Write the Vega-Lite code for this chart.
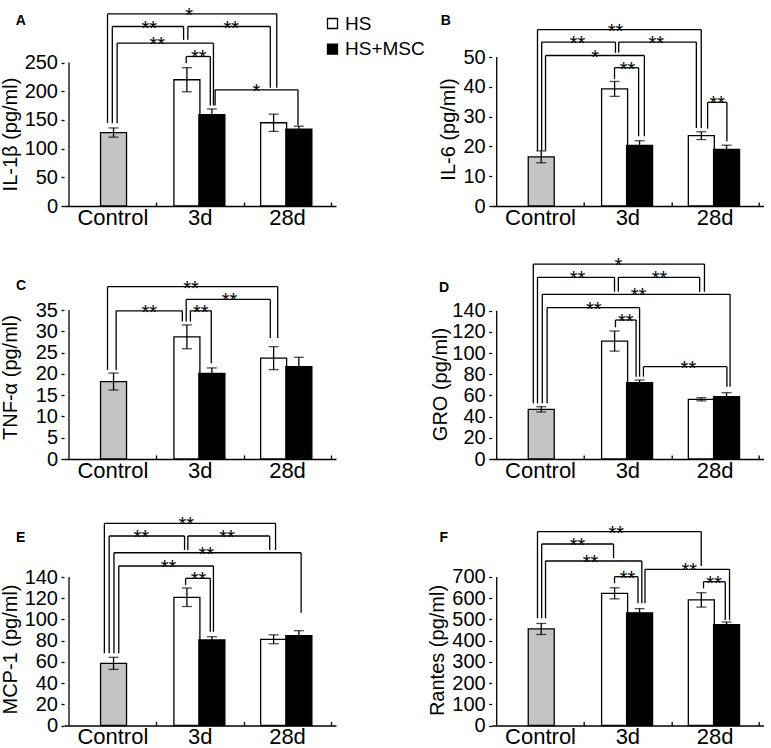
{
  "$schema": "https://vega.github.io/schema/vega-lite/v6.json",
  "padding": {"left": 0, "top": 0, "right": 0, "bottom": 4},
  "background": "white",
  "datasets": {
    "panels": [
      {"panel": "A", "axisMax": 250},
      {"panel": "B", "axisMax": 50},
      {"panel": "C", "axisMax": 35},
      {"panel": "D", "axisMax": 140},
      {"panel": "E", "axisMax": 140},
      {"panel": "F", "axisMax": 700}
    ],
    "bars": [
      {"panel": "A", "time": "Control", "group": "Control", "pos": 0.51, "mean": 128, "sem": 8},
      {"panel": "A", "time": "3d", "group": "HS", "pos": 1.35, "mean": 220, "sem": 21},
      {"panel": "A", "time": "3d", "group": "HS+MSC", "pos": 1.636, "mean": 159, "sem": 10},
      {"panel": "A", "time": "28d", "group": "HS", "pos": 2.343, "mean": 145, "sem": 15},
      {"panel": "A", "time": "28d", "group": "HS+MSC", "pos": 2.632, "mean": 134, "sem": 5},
      {"panel": "B", "time": "Control", "group": "Control", "pos": 0.51, "mean": 16.5, "sem": 2},
      {"panel": "B", "time": "3d", "group": "HS", "pos": 1.35, "mean": 39.3, "sem": 2.5},
      {"panel": "B", "time": "3d", "group": "HS+MSC", "pos": 1.636, "mean": 20.3, "sem": 1.6},
      {"panel": "B", "time": "28d", "group": "HS", "pos": 2.343, "mean": 23.6, "sem": 1.3},
      {"panel": "B", "time": "28d", "group": "HS+MSC", "pos": 2.632, "mean": 19.0, "sem": 1.4},
      {"panel": "C", "time": "Control", "group": "Control", "pos": 0.51, "mean": 18.2, "sem": 2},
      {"panel": "C", "time": "3d", "group": "HS", "pos": 1.35, "mean": 28.7, "sem": 2.8},
      {"panel": "C", "time": "3d", "group": "HS+MSC", "pos": 1.636, "mean": 20.1, "sem": 1.3},
      {"panel": "C", "time": "28d", "group": "HS", "pos": 2.343, "mean": 23.7, "sem": 2.7},
      {"panel": "C", "time": "28d", "group": "HS+MSC", "pos": 2.632, "mean": 21.7, "sem": 2.2},
      {"panel": "D", "time": "Control", "group": "Control", "pos": 0.51, "mean": 46.9, "sem": 2.5},
      {"panel": "D", "time": "3d", "group": "HS", "pos": 1.35, "mean": 111.4, "sem": 9.5},
      {"panel": "D", "time": "3d", "group": "HS+MSC", "pos": 1.636, "mean": 72.0, "sem": 2.6},
      {"panel": "D", "time": "28d", "group": "HS", "pos": 2.343, "mean": 56.4, "sem": 1.5},
      {"panel": "D", "time": "28d", "group": "HS+MSC", "pos": 2.632, "mean": 58.8, "sem": 3.8},
      {"panel": "E", "time": "Control", "group": "Control", "pos": 0.51, "mean": 58.6, "sem": 5.7},
      {"panel": "E", "time": "3d", "group": "HS", "pos": 1.35, "mean": 120.9, "sem": 8.7},
      {"panel": "E", "time": "3d", "group": "HS+MSC", "pos": 1.636, "mean": 80.6, "sem": 3.1},
      {"panel": "E", "time": "28d", "group": "HS", "pos": 2.343, "mean": 81.3, "sem": 4.2},
      {"panel": "E", "time": "28d", "group": "HS+MSC", "pos": 2.632, "mean": 84.7, "sem": 4.7},
      {"panel": "F", "time": "Control", "group": "Control", "pos": 0.51, "mean": 455, "sem": 26},
      {"panel": "F", "time": "3d", "group": "HS", "pos": 1.35, "mean": 623, "sem": 26},
      {"panel": "F", "time": "3d", "group": "HS+MSC", "pos": 1.636, "mean": 531, "sem": 20},
      {"panel": "F", "time": "28d", "group": "HS", "pos": 2.343, "mean": 592, "sem": 34},
      {"panel": "F", "time": "28d", "group": "HS+MSC", "pos": 2.632, "mean": 475, "sem": 13}
    ],
    "brackets": [
      {"panel": "A", "x1": 0.441, "x2": 2.379, "y": 334.8, "yl": 144.3, "yr": 205.9, "tx": 1.375, "sig": "*"},
      {"panel": "A", "x1": 0.496, "x2": 1.312, "y": 312.7, "yl": 144.3, "yr": 289.5, "tx": 0.92, "sig": "**"},
      {"panel": "A", "x1": 1.361, "x2": 2.305, "y": 312.7, "yl": 289.5, "yr": 205.9, "tx": 1.857, "sig": "**"},
      {"panel": "A", "x1": 0.551, "x2": 1.654, "y": 283.6, "yl": 144.3, "yr": 175.1, "tx": 1.011, "sig": "**"},
      {"panel": "A", "x1": 1.342, "x2": 1.618, "y": 260.5, "yl": 248.8, "yr": 175.1, "tx": 1.486, "sig": "**"},
      {"panel": "A", "x1": 1.673, "x2": 2.622, "y": 202.4, "yl": 175.1, "yr": 140.2, "tx": 2.147, "sig": "*"},
      {"panel": "B", "x1": 0.467, "x2": 2.342, "y": 59.2, "yl": 18.6, "yr": 26.2, "tx": 1.36, "sig": "**"},
      {"panel": "B", "x1": 0.515, "x2": 1.36, "y": 55.0, "yl": 18.6, "yr": 51.4, "tx": 0.926, "sig": "**"},
      {"panel": "B", "x1": 1.397, "x2": 2.286, "y": 55.0, "yl": 51.4, "yr": 26.2, "tx": 1.828, "sig": "**"},
      {"panel": "B", "x1": 0.559, "x2": 1.691, "y": 50.5, "yl": 18.6, "yr": 23.4, "tx": 1.128, "sig": "*"},
      {"panel": "B", "x1": 1.349, "x2": 1.625, "y": 46.4, "yl": 42.6, "yr": 23.4, "tx": 1.497, "sig": "**"},
      {"panel": "B", "x1": 2.415, "x2": 2.636, "y": 34.8, "yl": 26.0, "yr": 21.7, "tx": 2.526, "sig": "**"},
      {"panel": "C", "x1": 0.441, "x2": 2.39, "y": 40.5, "yl": 20.9, "yr": 28.4, "tx": 1.397, "sig": "**"},
      {"panel": "C", "x1": 0.54, "x2": 1.298, "y": 34.8, "yl": 20.9, "yr": 32.3, "tx": 0.92, "sig": "**"},
      {"panel": "C", "x1": 1.342, "x2": 2.305, "y": 37.5, "yl": 32.3, "yr": 28.4, "tx": 1.839, "sig": "**"},
      {"panel": "C", "x1": 1.39, "x2": 1.629, "y": 34.8, "yl": 32.3, "yr": 22.5, "tx": 1.508, "sig": "**"},
      {"panel": "D", "x1": 0.419, "x2": 2.379, "y": 184.1, "yl": 52.6, "yr": 158.0, "tx": 1.393, "sig": "*"},
      {"panel": "D", "x1": 0.467, "x2": 1.349, "y": 171.6, "yl": 52.6, "yr": 158.0, "tx": 0.926, "sig": "**"},
      {"panel": "D", "x1": 1.393, "x2": 2.324, "y": 171.6, "yl": 158.0, "yr": 158.0, "tx": 1.864, "sig": "**"},
      {"panel": "D", "x1": 0.522, "x2": 2.672, "y": 155.5, "yl": 52.6, "yr": 68.3, "tx": 1.625, "sig": "**"},
      {"panel": "D", "x1": 0.577, "x2": 1.636, "y": 142.9, "yl": 52.6, "yr": 77.7, "tx": 1.111, "sig": "**"},
      {"panel": "D", "x1": 1.36, "x2": 1.596, "y": 131.3, "yl": 124.4, "yr": 77.7, "tx": 1.478, "sig": "**"},
      {"panel": "D", "x1": 1.68, "x2": 2.636, "y": 87.2, "yl": 77.7, "yr": 68.3, "tx": 2.195, "sig": "**"},
      {"panel": "E", "x1": 0.405, "x2": 2.365, "y": 190.6, "yl": 68.1, "yr": 165.5, "tx": 1.342, "sig": "**"},
      {"panel": "E", "x1": 0.46, "x2": 1.323, "y": 178.7, "yl": 68.1, "yr": 165.5, "tx": 0.827, "sig": "**"},
      {"panel": "E", "x1": 1.361, "x2": 2.298, "y": 178.7, "yl": 165.5, "yr": 165.5, "tx": 1.809, "sig": "**"},
      {"panel": "E", "x1": 0.515, "x2": 2.658, "y": 162.9, "yl": 68.1, "yr": 106.3, "tx": 1.571, "sig": "**"},
      {"panel": "E", "x1": 0.57, "x2": 1.654, "y": 150.4, "yl": 68.1, "yr": 88.4, "tx": 1.14, "sig": "**"},
      {"panel": "E", "x1": 1.335, "x2": 1.618, "y": 138.8, "yl": 132.5, "yr": 88.4, "tx": 1.482, "sig": "**"},
      {"panel": "F", "x1": 0.467, "x2": 2.342, "y": 913.6, "yl": 505.3, "yr": 751.9, "tx": 1.368, "sig": "**"},
      {"panel": "F", "x1": 0.515, "x2": 1.338, "y": 855.6, "yl": 505.3, "yr": 788.2, "tx": 0.926, "sig": "**"},
      {"panel": "F", "x1": 0.559, "x2": 1.662, "y": 775.4, "yl": 505.3, "yr": 576.0, "tx": 1.073, "sig": "**"},
      {"panel": "F", "x1": 1.698, "x2": 2.666, "y": 736.3, "yl": 576.0, "yr": 497.3, "tx": 2.206, "sig": "**"},
      {"panel": "F", "x1": 1.349, "x2": 1.618, "y": 701.4, "yl": 670.3, "yr": 576.0, "tx": 1.497, "sig": "**"},
      {"panel": "F", "x1": 2.368, "x2": 2.617, "y": 677.9, "yl": 646.7, "yr": 497.3, "tx": 2.489, "sig": "**"}
    ]
  },
  "columns": 2,
  "spacing": {"row": 44, "column": 155.7},
  "bounds": "flush",
  "align": "each",
  "concat": [
    {
      "width": 272, "height": 206,
      "layer": [
        {"data": {"name": "panels"}, "transform": [{"filter": "datum.panel == 'A'"}],
         "mark": {"type": "rule", "color": "black", "strokeWidth": 1.3},
         "encoding": {
           "x": {"datum": 0, "type": "quantitative", "scale": {"domain": [0, 3], "nice": false},
                 "axis": {"values": [1, 2, 3], "labelExpr": "datum.value == 1 ? 'Control' : datum.value == 2 ? '3d' : '28d'", "title": null}},
           "y": {"field": "axisMax", "type": "quantitative", "scale": {"domain": [0, 358.9], "nice": false},
                 "axis": {"values": [0, 50, 100, 150, 200, 250], "tickCount": 20, "title": "IL-1β (pg/ml)", "titleX": -48, "titleY": 134}},
           "y2": {"datum": 0}
         }},
        {"data": {"name": "panels"}, "transform": [{"filter": "datum.panel == 'A'"}],
         "mark": {"type": "text", "align": "left", "baseline": "alphabetic", "fontSize": 14, "fontWeight": "bold", "color": "black"},
         "encoding": {"x": {"datum": -0.61, "type": "quantitative"}, "y": {"datum": 315.3, "type": "quantitative"}, "text": {"field": "panel"}}},
        {"data": {"name": "bars"}, "transform": [{"filter": "datum.panel == 'A' && datum.group == 'Control'"}],
         "mark": {"type": "bar", "width": 26, "fill": "#c4c4c4", "stroke": "black", "strokeWidth": 1.3},
         "encoding": {"x": {"field": "pos", "type": "quantitative"}, "y": {"field": "mean", "type": "quantitative", "title": "IL-1β (pg/ml)"}}},
        {"data": {"name": "bars"}, "transform": [{"filter": "datum.panel == 'A' && datum.group != 'Control'"}],
         "mark": {"type": "bar", "width": 26, "stroke": "black", "strokeWidth": 1.3},
         "encoding": {"x": {"field": "pos", "type": "quantitative"}, "y": {"field": "mean", "type": "quantitative", "title": "IL-1β (pg/ml)"},
                      "fill": {"field": "group", "type": "nominal", "title": null, "scale": {"domain": ["HS", "HS+MSC"], "range": ["#ffffff", "#000000"]}}}},
        {"data": {"name": "bars"}, "transform": [{"filter": "datum.panel == 'A'"}],
         "mark": {"type": "errorbar", "color": "black", "ticks": {"size": 10, "thickness": 1.3}, "rule": {"strokeWidth": 1.3}},
         "encoding": {"x": {"field": "pos", "type": "quantitative"}, "y": {"field": "mean", "type": "quantitative", "title": "IL-1β (pg/ml)"}, "yError": {"field": "sem"}}},
        {"data": {"name": "brackets"}, "transform": [{"filter": "datum.panel == 'A'"}],
         "mark": {"type": "rule", "color": "black", "strokeWidth": 1.3},
         "encoding": {"x": {"field": "x1", "type": "quantitative"}, "x2": {"field": "x2"}, "y": {"field": "y", "type": "quantitative", "title": "IL-1β (pg/ml)"}}},
        {"data": {"name": "brackets"}, "transform": [{"filter": "datum.panel == 'A'"}],
         "mark": {"type": "rule", "color": "black", "strokeWidth": 1.3},
         "encoding": {"x": {"field": "x1", "type": "quantitative"}, "y": {"field": "y", "type": "quantitative", "title": "IL-1β (pg/ml)"}, "y2": {"field": "yl"}}},
        {"data": {"name": "brackets"}, "transform": [{"filter": "datum.panel == 'A'"}],
         "mark": {"type": "rule", "color": "black", "strokeWidth": 1.3},
         "encoding": {"x": {"field": "x2", "type": "quantitative"}, "y": {"field": "y", "type": "quantitative", "title": "IL-1β (pg/ml)"}, "y2": {"field": "yr"}}},
        {"data": {"name": "brackets"}, "transform": [{"filter": "datum.panel == 'A'"}],
         "mark": {"type": "text", "fontSize": 20, "dy": 8, "baseline": "alphabetic", "align": "center", "color": "black"},
         "encoding": {"x": {"field": "tx", "type": "quantitative"}, "y": {"field": "y", "type": "quantitative", "title": "IL-1β (pg/ml)"}, "text": {"field": "sig"}}}
      ]
    },
    {
      "width": 272, "height": 206,
      "layer": [
        {"data": {"name": "panels"}, "transform": [{"filter": "datum.panel == 'B'"}],
         "mark": {"type": "rule", "color": "black", "strokeWidth": 1.3},
         "encoding": {
           "x": {"datum": 0, "type": "quantitative", "scale": {"domain": [0, 3], "nice": false},
                 "axis": {"values": [1, 2, 3], "labelExpr": "datum.value == 1 ? 'Control' : datum.value == 2 ? '3d' : '28d'", "title": null}},
           "y": {"field": "axisMax", "type": "quantitative", "scale": {"domain": [0, 69.13], "nice": false},
                 "axis": {"values": [0, 10, 20, 30, 40, 50], "tickCount": 20, "title": "IL-6 (pg/ml)", "titleX": -37, "titleY": 129}},
           "y2": {"datum": 0}
         }},
        {"data": {"name": "panels"}, "transform": [{"filter": "datum.panel == 'B'"}],
         "mark": {"type": "text", "align": "left", "baseline": "alphabetic", "fontSize": 14, "fontWeight": "bold", "color": "black"},
         "encoding": {"x": {"datum": -0.64, "type": "quantitative"}, "y": {"datum": 60.7, "type": "quantitative"}, "text": {"field": "panel"}}},
        {"data": {"name": "bars"}, "transform": [{"filter": "datum.panel == 'B' && datum.group == 'Control'"}],
         "mark": {"type": "bar", "width": 26, "fill": "#c4c4c4", "stroke": "black", "strokeWidth": 1.3},
         "encoding": {"x": {"field": "pos", "type": "quantitative"}, "y": {"field": "mean", "type": "quantitative", "title": "IL-6 (pg/ml)"}}},
        {"data": {"name": "bars"}, "transform": [{"filter": "datum.panel == 'B' && datum.group != 'Control'"}],
         "mark": {"type": "bar", "width": 26, "stroke": "black", "strokeWidth": 1.3},
         "encoding": {"x": {"field": "pos", "type": "quantitative"}, "y": {"field": "mean", "type": "quantitative", "title": "IL-6 (pg/ml)"},
                      "fill": {"field": "group", "type": "nominal", "title": null, "scale": {"domain": ["HS", "HS+MSC"], "range": ["#ffffff", "#000000"]}}}},
        {"data": {"name": "bars"}, "transform": [{"filter": "datum.panel == 'B'"}],
         "mark": {"type": "errorbar", "color": "black", "ticks": {"size": 10, "thickness": 1.3}, "rule": {"strokeWidth": 1.3}},
         "encoding": {"x": {"field": "pos", "type": "quantitative"}, "y": {"field": "mean", "type": "quantitative", "title": "IL-6 (pg/ml)"}, "yError": {"field": "sem"}}},
        {"data": {"name": "brackets"}, "transform": [{"filter": "datum.panel == 'B'"}],
         "mark": {"type": "rule", "color": "black", "strokeWidth": 1.3},
         "encoding": {"x": {"field": "x1", "type": "quantitative"}, "x2": {"field": "x2"}, "y": {"field": "y", "type": "quantitative", "title": "IL-6 (pg/ml)"}}},
        {"data": {"name": "brackets"}, "transform": [{"filter": "datum.panel == 'B'"}],
         "mark": {"type": "rule", "color": "black", "strokeWidth": 1.3},
         "encoding": {"x": {"field": "x1", "type": "quantitative"}, "y": {"field": "y", "type": "quantitative", "title": "IL-6 (pg/ml)"}, "y2": {"field": "yl"}}},
        {"data": {"name": "brackets"}, "transform": [{"filter": "datum.panel == 'B'"}],
         "mark": {"type": "rule", "color": "black", "strokeWidth": 1.3},
         "encoding": {"x": {"field": "x2", "type": "quantitative"}, "y": {"field": "y", "type": "quantitative", "title": "IL-6 (pg/ml)"}, "y2": {"field": "yr"}}},
        {"data": {"name": "brackets"}, "transform": [{"filter": "datum.panel == 'B'"}],
         "mark": {"type": "text", "fontSize": 20, "dy": 8, "baseline": "alphabetic", "align": "center", "color": "black"},
         "encoding": {"x": {"field": "tx", "type": "quantitative"}, "y": {"field": "y", "type": "quantitative", "title": "IL-6 (pg/ml)"}, "text": {"field": "sig"}}}
      ]
    },
    {
      "width": 272, "height": 209,
      "layer": [
        {"data": {"name": "panels"}, "transform": [{"filter": "datum.panel == 'C'"}],
         "mark": {"type": "rule", "color": "black", "strokeWidth": 1.3},
         "encoding": {
           "x": {"datum": 0, "type": "quantitative", "scale": {"domain": [0, 3], "nice": false},
                 "axis": {"values": [1, 2, 3], "labelExpr": "datum.value == 1 ? 'Control' : datum.value == 2 ? '3d' : '28d'", "title": null}},
           "y": {"field": "axisMax", "type": "quantitative", "scale": {"domain": [0, 49.1], "nice": false},
                 "axis": {"values": [0, 5, 10, 15, 20, 25, 30, 35], "tickCount": 20, "title": "TNF-α (pg/ml)", "titleX": -48, "titleY": 127}},
           "y2": {"datum": 0}
         }},
        {"data": {"name": "panels"}, "transform": [{"filter": "datum.panel == 'C'"}],
         "mark": {"type": "text", "align": "left", "baseline": "alphabetic", "fontSize": 14, "fontWeight": "bold", "color": "black"},
         "encoding": {"x": {"datum": -0.606, "type": "quantitative"}, "y": {"datum": 39.7, "type": "quantitative"}, "text": {"field": "panel"}}},
        {"data": {"name": "bars"}, "transform": [{"filter": "datum.panel == 'C' && datum.group == 'Control'"}],
         "mark": {"type": "bar", "width": 26, "fill": "#c4c4c4", "stroke": "black", "strokeWidth": 1.3},
         "encoding": {"x": {"field": "pos", "type": "quantitative"}, "y": {"field": "mean", "type": "quantitative", "title": "TNF-α (pg/ml)"}}},
        {"data": {"name": "bars"}, "transform": [{"filter": "datum.panel == 'C' && datum.group != 'Control'"}],
         "mark": {"type": "bar", "width": 26, "stroke": "black", "strokeWidth": 1.3},
         "encoding": {"x": {"field": "pos", "type": "quantitative"}, "y": {"field": "mean", "type": "quantitative", "title": "TNF-α (pg/ml)"},
                      "fill": {"field": "group", "type": "nominal", "title": null, "scale": {"domain": ["HS", "HS+MSC"], "range": ["#ffffff", "#000000"]}}}},
        {"data": {"name": "bars"}, "transform": [{"filter": "datum.panel == 'C'"}],
         "mark": {"type": "errorbar", "color": "black", "ticks": {"size": 10, "thickness": 1.3}, "rule": {"strokeWidth": 1.3}},
         "encoding": {"x": {"field": "pos", "type": "quantitative"}, "y": {"field": "mean", "type": "quantitative", "title": "TNF-α (pg/ml)"}, "yError": {"field": "sem"}}},
        {"data": {"name": "brackets"}, "transform": [{"filter": "datum.panel == 'C'"}],
         "mark": {"type": "rule", "color": "black", "strokeWidth": 1.3},
         "encoding": {"x": {"field": "x1", "type": "quantitative"}, "x2": {"field": "x2"}, "y": {"field": "y", "type": "quantitative", "title": "TNF-α (pg/ml)"}}},
        {"data": {"name": "brackets"}, "transform": [{"filter": "datum.panel == 'C'"}],
         "mark": {"type": "rule", "color": "black", "strokeWidth": 1.3},
         "encoding": {"x": {"field": "x1", "type": "quantitative"}, "y": {"field": "y", "type": "quantitative", "title": "TNF-α (pg/ml)"}, "y2": {"field": "yl"}}},
        {"data": {"name": "brackets"}, "transform": [{"filter": "datum.panel == 'C'"}],
         "mark": {"type": "rule", "color": "black", "strokeWidth": 1.3},
         "encoding": {"x": {"field": "x2", "type": "quantitative"}, "y": {"field": "y", "type": "quantitative", "title": "TNF-α (pg/ml)"}, "y2": {"field": "yr"}}},
        {"data": {"name": "brackets"}, "transform": [{"filter": "datum.panel == 'C'"}],
         "mark": {"type": "text", "fontSize": 20, "dy": 8, "baseline": "alphabetic", "align": "center", "color": "black"},
         "encoding": {"x": {"field": "tx", "type": "quantitative"}, "y": {"field": "y", "type": "quantitative", "title": "TNF-α (pg/ml)"}, "text": {"field": "sig"}}}
      ]
    },
    {
      "width": 272, "height": 209,
      "layer": [
        {"data": {"name": "panels"}, "transform": [{"filter": "datum.panel == 'D'"}],
         "mark": {"type": "rule", "color": "black", "strokeWidth": 1.3},
         "encoding": {
           "x": {"datum": 0, "type": "quantitative", "scale": {"domain": [0, 3], "nice": false},
                 "axis": {"values": [1, 2, 3], "labelExpr": "datum.value == 1 ? 'Control' : datum.value == 2 ? '3d' : '28d'", "title": null}},
           "y": {"field": "axisMax", "type": "quantitative", "scale": {"domain": [0, 197.4], "nice": false},
                 "axis": {"values": [0, 20, 40, 60, 80, 100, 120, 140], "tickCount": 20, "title": "GRO (pg/ml)", "titleX": -45.6, "titleY": 134}},
           "y2": {"datum": 0}
         }},
        {"data": {"name": "panels"}, "transform": [{"filter": "datum.panel == 'D'"}],
         "mark": {"type": "text", "align": "left", "baseline": "alphabetic", "fontSize": 14, "fontWeight": "bold", "color": "black"},
         "encoding": {"x": {"datum": -0.662, "type": "quantitative"}, "y": {"datum": 158.0, "type": "quantitative"}, "text": {"field": "panel"}}},
        {"data": {"name": "bars"}, "transform": [{"filter": "datum.panel == 'D' && datum.group == 'Control'"}],
         "mark": {"type": "bar", "width": 26, "fill": "#c4c4c4", "stroke": "black", "strokeWidth": 1.3},
         "encoding": {"x": {"field": "pos", "type": "quantitative"}, "y": {"field": "mean", "type": "quantitative", "title": "GRO (pg/ml)"}}},
        {"data": {"name": "bars"}, "transform": [{"filter": "datum.panel == 'D' && datum.group != 'Control'"}],
         "mark": {"type": "bar", "width": 26, "stroke": "black", "strokeWidth": 1.3},
         "encoding": {"x": {"field": "pos", "type": "quantitative"}, "y": {"field": "mean", "type": "quantitative", "title": "GRO (pg/ml)"},
                      "fill": {"field": "group", "type": "nominal", "title": null, "scale": {"domain": ["HS", "HS+MSC"], "range": ["#ffffff", "#000000"]}}}},
        {"data": {"name": "bars"}, "transform": [{"filter": "datum.panel == 'D'"}],
         "mark": {"type": "errorbar", "color": "black", "ticks": {"size": 10, "thickness": 1.3}, "rule": {"strokeWidth": 1.3}},
         "encoding": {"x": {"field": "pos", "type": "quantitative"}, "y": {"field": "mean", "type": "quantitative", "title": "GRO (pg/ml)"}, "yError": {"field": "sem"}}},
        {"data": {"name": "brackets"}, "transform": [{"filter": "datum.panel == 'D'"}],
         "mark": {"type": "rule", "color": "black", "strokeWidth": 1.3},
         "encoding": {"x": {"field": "x1", "type": "quantitative"}, "x2": {"field": "x2"}, "y": {"field": "y", "type": "quantitative", "title": "GRO (pg/ml)"}}},
        {"data": {"name": "brackets"}, "transform": [{"filter": "datum.panel == 'D'"}],
         "mark": {"type": "rule", "color": "black", "strokeWidth": 1.3},
         "encoding": {"x": {"field": "x1", "type": "quantitative"}, "y": {"field": "y", "type": "quantitative", "title": "GRO (pg/ml)"}, "y2": {"field": "yl"}}},
        {"data": {"name": "brackets"}, "transform": [{"filter": "datum.panel == 'D'"}],
         "mark": {"type": "rule", "color": "black", "strokeWidth": 1.3},
         "encoding": {"x": {"field": "x2", "type": "quantitative"}, "y": {"field": "y", "type": "quantitative", "title": "GRO (pg/ml)"}, "y2": {"field": "yr"}}},
        {"data": {"name": "brackets"}, "transform": [{"filter": "datum.panel == 'D'"}],
         "mark": {"type": "text", "fontSize": 20, "dy": 8, "baseline": "alphabetic", "align": "center", "color": "black"},
         "encoding": {"x": {"field": "tx", "type": "quantitative"}, "y": {"field": "y", "type": "quantitative", "title": "GRO (pg/ml)"}, "text": {"field": "sig"}}}
      ]
    },
    {
      "width": 272, "height": 222.5,
      "layer": [
        {"data": {"name": "panels"}, "transform": [{"filter": "datum.panel == 'E'"}],
         "mark": {"type": "rule", "color": "black", "strokeWidth": 1.3},
         "encoding": {
           "x": {"datum": 0, "type": "quantitative", "scale": {"domain": [0, 3], "nice": false},
                 "axis": {"values": [1, 2, 3], "labelExpr": "datum.value == 1 ? 'Control' : datum.value == 2 ? '3d' : '28d'", "title": null}},
           "y": {"field": "axisMax", "type": "quantitative", "scale": {"domain": [0, 209.8], "nice": false},
                 "axis": {"values": [0, 20, 40, 60, 80, 100, 120, 140], "tickCount": 20, "title": "MCP-1 (pg/ml)", "titleX": -48, "titleY": 146}},
           "y2": {"datum": 0}
         }},
        {"data": {"name": "panels"}, "transform": [{"filter": "datum.panel == 'E'"}],
         "mark": {"type": "text", "align": "left", "baseline": "alphabetic", "fontSize": 14, "fontWeight": "bold", "color": "black"},
         "encoding": {"x": {"datum": -0.606, "type": "quantitative"}, "y": {"datum": 173.3, "type": "quantitative"}, "text": {"field": "panel"}}},
        {"data": {"name": "bars"}, "transform": [{"filter": "datum.panel == 'E' && datum.group == 'Control'"}],
         "mark": {"type": "bar", "width": 26, "fill": "#c4c4c4", "stroke": "black", "strokeWidth": 1.3},
         "encoding": {"x": {"field": "pos", "type": "quantitative"}, "y": {"field": "mean", "type": "quantitative", "title": "MCP-1 (pg/ml)"}}},
        {"data": {"name": "bars"}, "transform": [{"filter": "datum.panel == 'E' && datum.group != 'Control'"}],
         "mark": {"type": "bar", "width": 26, "stroke": "black", "strokeWidth": 1.3},
         "encoding": {"x": {"field": "pos", "type": "quantitative"}, "y": {"field": "mean", "type": "quantitative", "title": "MCP-1 (pg/ml)"},
                      "fill": {"field": "group", "type": "nominal", "title": null, "scale": {"domain": ["HS", "HS+MSC"], "range": ["#ffffff", "#000000"]}}}},
        {"data": {"name": "bars"}, "transform": [{"filter": "datum.panel == 'E'"}],
         "mark": {"type": "errorbar", "color": "black", "ticks": {"size": 10, "thickness": 1.3}, "rule": {"strokeWidth": 1.3}},
         "encoding": {"x": {"field": "pos", "type": "quantitative"}, "y": {"field": "mean", "type": "quantitative", "title": "MCP-1 (pg/ml)"}, "yError": {"field": "sem"}}},
        {"data": {"name": "brackets"}, "transform": [{"filter": "datum.panel == 'E'"}],
         "mark": {"type": "rule", "color": "black", "strokeWidth": 1.3},
         "encoding": {"x": {"field": "x1", "type": "quantitative"}, "x2": {"field": "x2"}, "y": {"field": "y", "type": "quantitative", "title": "MCP-1 (pg/ml)"}}},
        {"data": {"name": "brackets"}, "transform": [{"filter": "datum.panel == 'E'"}],
         "mark": {"type": "rule", "color": "black", "strokeWidth": 1.3},
         "encoding": {"x": {"field": "x1", "type": "quantitative"}, "y": {"field": "y", "type": "quantitative", "title": "MCP-1 (pg/ml)"}, "y2": {"field": "yl"}}},
        {"data": {"name": "brackets"}, "transform": [{"filter": "datum.panel == 'E'"}],
         "mark": {"type": "rule", "color": "black", "strokeWidth": 1.3},
         "encoding": {"x": {"field": "x2", "type": "quantitative"}, "y": {"field": "y", "type": "quantitative", "title": "MCP-1 (pg/ml)"}, "y2": {"field": "yr"}}},
        {"data": {"name": "brackets"}, "transform": [{"filter": "datum.panel == 'E'"}],
         "mark": {"type": "text", "fontSize": 20, "dy": 8, "baseline": "alphabetic", "align": "center", "color": "black"},
         "encoding": {"x": {"field": "tx", "type": "quantitative"}, "y": {"field": "y", "type": "quantitative", "title": "MCP-1 (pg/ml)"}, "text": {"field": "sig"}}}
      ]
    },
    {
      "width": 272, "height": 222.5,
      "layer": [
        {"data": {"name": "panels"}, "transform": [{"filter": "datum.panel == 'F'"}],
         "mark": {"type": "rule", "color": "black", "strokeWidth": 1.3},
         "encoding": {
           "x": {"datum": 0, "type": "quantitative", "scale": {"domain": [0, 3], "nice": false},
                 "axis": {"values": [1, 2, 3], "labelExpr": "datum.value == 1 ? 'Control' : datum.value == 2 ? '3d' : '28d'", "title": null}},
           "y": {"field": "axisMax", "type": "quantitative", "scale": {"domain": [0, 1048.8], "nice": false},
                 "axis": {"values": [0, 100, 200, 300, 400, 500, 600, 700], "tickCount": 20, "title": "Rantes (pg/ml)", "titleX": -48, "titleY": 147}},
           "y2": {"datum": 0}
         }},
        {"data": {"name": "panels"}, "transform": [{"filter": "datum.panel == 'F'"}],
         "mark": {"type": "text", "align": "left", "baseline": "alphabetic", "fontSize": 14, "fontWeight": "bold", "color": "black"},
         "encoding": {"x": {"datum": -0.654, "type": "quantitative"}, "y": {"datum": 866.4, "type": "quantitative"}, "text": {"field": "panel"}}},
        {"data": {"name": "bars"}, "transform": [{"filter": "datum.panel == 'F' && datum.group == 'Control'"}],
         "mark": {"type": "bar", "width": 26, "fill": "#c4c4c4", "stroke": "black", "strokeWidth": 1.3},
         "encoding": {"x": {"field": "pos", "type": "quantitative"}, "y": {"field": "mean", "type": "quantitative", "title": "Rantes (pg/ml)"}}},
        {"data": {"name": "bars"}, "transform": [{"filter": "datum.panel == 'F' && datum.group != 'Control'"}],
         "mark": {"type": "bar", "width": 26, "stroke": "black", "strokeWidth": 1.3},
         "encoding": {"x": {"field": "pos", "type": "quantitative"}, "y": {"field": "mean", "type": "quantitative", "title": "Rantes (pg/ml)"},
                      "fill": {"field": "group", "type": "nominal", "title": null, "scale": {"domain": ["HS", "HS+MSC"], "range": ["#ffffff", "#000000"]}}}},
        {"data": {"name": "bars"}, "transform": [{"filter": "datum.panel == 'F'"}],
         "mark": {"type": "errorbar", "color": "black", "ticks": {"size": 10, "thickness": 1.3}, "rule": {"strokeWidth": 1.3}},
         "encoding": {"x": {"field": "pos", "type": "quantitative"}, "y": {"field": "mean", "type": "quantitative", "title": "Rantes (pg/ml)"}, "yError": {"field": "sem"}}},
        {"data": {"name": "brackets"}, "transform": [{"filter": "datum.panel == 'F'"}],
         "mark": {"type": "rule", "color": "black", "strokeWidth": 1.3},
         "encoding": {"x": {"field": "x1", "type": "quantitative"}, "x2": {"field": "x2"}, "y": {"field": "y", "type": "quantitative", "title": "Rantes (pg/ml)"}}},
        {"data": {"name": "brackets"}, "transform": [{"filter": "datum.panel == 'F'"}],
         "mark": {"type": "rule", "color": "black", "strokeWidth": 1.3},
         "encoding": {"x": {"field": "x1", "type": "quantitative"}, "y": {"field": "y", "type": "quantitative", "title": "Rantes (pg/ml)"}, "y2": {"field": "yl"}}},
        {"data": {"name": "brackets"}, "transform": [{"filter": "datum.panel == 'F'"}],
         "mark": {"type": "rule", "color": "black", "strokeWidth": 1.3},
         "encoding": {"x": {"field": "x2", "type": "quantitative"}, "y": {"field": "y", "type": "quantitative", "title": "Rantes (pg/ml)"}, "y2": {"field": "yr"}}},
        {"data": {"name": "brackets"}, "transform": [{"filter": "datum.panel == 'F'"}],
         "mark": {"type": "text", "fontSize": 20, "dy": 8, "baseline": "alphabetic", "align": "center", "color": "black"},
         "encoding": {"x": {"field": "tx", "type": "quantitative"}, "y": {"field": "y", "type": "quantitative", "title": "Rantes (pg/ml)"}, "text": {"field": "sig"}}}
      ]
    }
  ],
  "config": {
    "font": "Liberation Sans",
    "view": {"stroke": null},
    "axis": {"grid": false, "domainColor": "black", "domainWidth": 1.3, "tickColor": "black", "tickWidth": 1.3, "labelColor": "black", "titleColor": "black", "titleFontWeight": "normal", "labelFont": "Liberation Sans", "titleFont": "Liberation Sans", "labelOverlap": false, "labelFlush": false},
    "axisX": {"labelFontSize": 22, "labelOffset": -44, "tickSize": -4, "labelPadding": 5, "labelOverlap": false, "labelFlush": false},
    "axisY": {"labelFontSize": 20, "labelPadding": 3.5, "tickSize": 3, "tickCount": 20, "domain": false, "labelOverlap": false, "labelFlush": false, "titleFontSize": 20, "titleBaseline": "alphabetic", "titleAngle": -90, "titleAlign": "center"},
    "legend": {"orient": "none", "legendX": 259, "legendY": 14, "symbolType": "square", "symbolSize": 100, "symbolStrokeColor": "black", "symbolStrokeWidth": 1.3, "labelFontSize": 19, "labelFont": "Liberation Sans", "labelColor": "black", "labelOffset": 3, "rowPadding": 5.6, "padding": 0}
  }
}
